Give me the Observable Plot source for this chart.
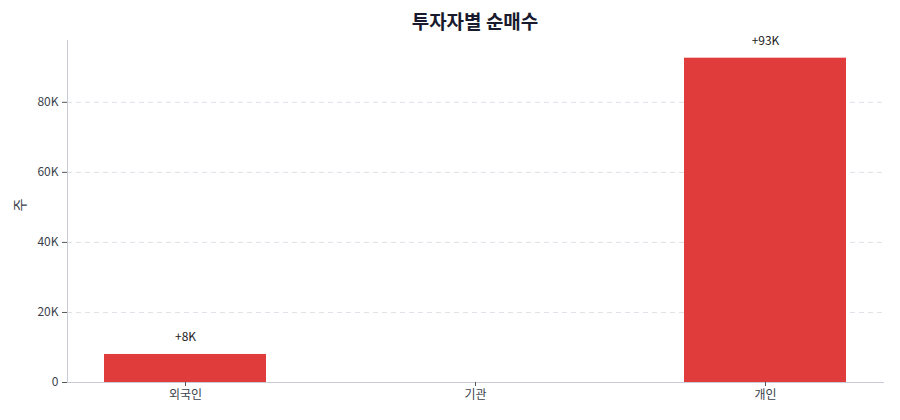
<!DOCTYPE html>
<html><head><meta charset="utf-8">
<script src="https://cdn.jsdelivr.net/npm/d3@7"></script>
<script src="https://cdn.jsdelivr.net/npm/@observablehq/plot@0.6"></script>
<style>
body{margin:0;background:#fff;font-family:"Noto Sans CJK KR","Noto Sans",sans-serif;}
#title{height:34px;box-sizing:border-box;padding-top:8px;line-height:26px;font-size:19px;font-weight:700;color:#1a1a2e;padding-left:67px;padding-right:17px;text-align:center;width:900px;}
#chart svg{overflow:visible;}
</style></head>
<body>
<div id="title">투자자별 순매수</div>
<div id="chart"></div>
<script>
const investors = ["외국인", "기관", "개인"];
const netBuy = [8000, 0, 92600];
const yTicks = [0, 20000, 40000, 60000, 80000];

const data = investors.map((k, i) => ({investor: k, value: netBuy[i]}));
const fmtK = v => v === 0 ? "0" : (v / 1000) + "K";
const fmtLabel = v => (v > 0 ? "+" : "") + Math.round(v / 1000) + "K";

const chart = Plot.plot({
  width: 900,
  height: 386,
  marginLeft: 67,
  marginRight: 17,
  marginTop: 6,
  marginBottom: 38,
  style: {fontFamily: '"Noto Sans CJK KR","Noto Sans",sans-serif', fontSize: "12px", color: "#3a3f4b", background: "#fff", overflow: "visible"},
  x: {domain: investors, padding: 0.44, paddingOuter: 0.126, label: null},
  y: {domain: [0, 97650], label: null},
  marks: [
    Plot.gridY(yTicks, {stroke: "#dde1e8", strokeOpacity: 1, strokeDasharray: "5,4"}),
    Plot.barY(data, {x: "investor", y: "value", fill: "#e03c3c"}),
    Plot.frame({anchor: "bottom", stroke: "#c9ccd8"}),
    Plot.frame({anchor: "left", stroke: "#c9ccd8"}),
    Plot.axisX({tickSize: 4, tickPadding: 4, stroke: "#555", fontSize: 12, fill: "#3a3f4b"}),
    Plot.axisY({ticks: yTicks, tickFormat: fmtK, tickSize: 5, tickPadding: 4, stroke: "#555", fontSize: 12, fill: "#3a3f4b", label: null}),
    Plot.text(["주"], {frameAnchor: "left", dx: -47, rotate: -90, fontSize: 14, fill: "#3a3f4b"}),
    Plot.text(data.filter(d => d.value !== 0), {x: "investor", y: "value", text: d => fmtLabel(d.value), dy: -17, fontSize: 12, fill: "#222"})
  ]
});
document.getElementById("chart").appendChild(chart);
</script>
</body></html>
